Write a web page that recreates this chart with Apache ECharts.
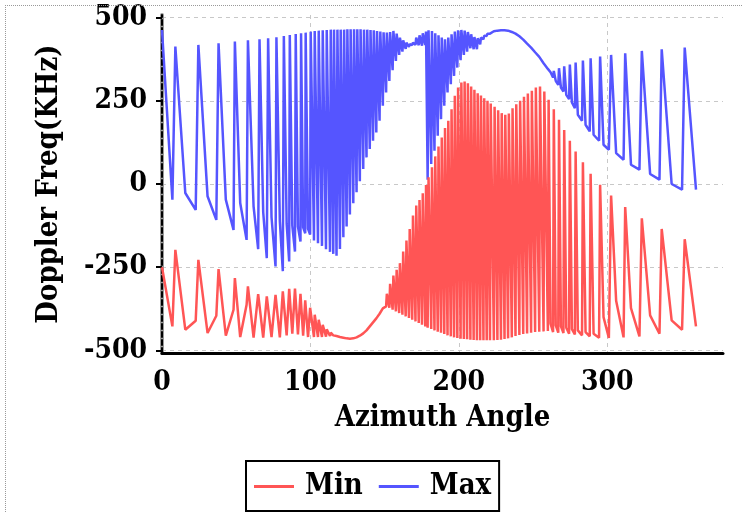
<!DOCTYPE html>
<html><head><meta charset="utf-8">
<script src="https://cdn.jsdelivr.net/npm/echarts@6/dist/echarts.min.js"></script>
<style>
html,body{margin:0;padding:0;background:#fff;overflow:hidden;}
#chart{width:742px;height:512px;}
#frame{position:absolute;left:5px;top:5px;width:800px;height:600px;border-left:1px dotted #999;border-top:1px dotted #999;pointer-events:none;}
</style></head><body>
<div id="chart"></div><div id="frame"></div>
<script>
// Azimuth sample positions (deg)
const azimuth = [
  0, 7, 9, 15.7, 22.7, 24.5, 30.7, 36.6, 38.1, 43, 48.2, 49.1, 52.7, 57, 57.9, 61.7, 64.8, 65.7,
  68.2, 70.6, 71.5, 73.8, 76.5, 77.1, 79.4, 81.4, 82.1, 84, 85.7, 86.1, 87.8, 89.6, 90.1, 91.6, 93.3, 93.7, 95.1, 96.5, 96.8, 98.4, 99.8, 100.2,
  102.4, 102.9, 105.1, 105.6, 107.8, 108.3, 110.5, 111, 113.2, 113.7, 115.4, 115.9, 117.6, 118.2, 119.9, 120.4, 122.2, 122.7, 124.4, 124.9, 126.6, 127.1, 128.9, 129.4, 131.1, 131.6, 133.3, 133.8, 135.6, 136.1, 137.8, 138.3, 140, 140.5, 142.2, 142.7, 144.4, 144.9, 146.6, 147.1, 148.8, 149.3,
  151, 151.5, 153.2, 153.7, 155.4, 155.9, 157.6, 158.1, 159.8, 160.3, 162, 162.5, 164.2, 164.7, 166.4, 166.9, 168.6, 169.1, 170.8, 171.3, 173, 173.5, 175.2, 175.7, 177.4, 177.9,
  179, 179.6, 181.4, 181.9, 183.6, 184.1, 185.8, 186.3, 188, 188.5, 190.2, 190.7, 192.4, 192.9, 194.6, 195.1, 196.8, 197.3, 199, 199.5, 201.2, 201.7, 203.4, 203.9, 205.6, 206.1, 207.8, 208.3, 210, 210.5, 212.2, 212.7, 214.4, 214.9, 216.6, 217.1, 218.8, 219.3, 221, 221.5,
  223.6, 224.1, 226, 226.5, 228.4, 228.9, 230.8, 231.3, 233.2, 233.7, 235.7, 236.2, 238.2, 238.7, 240.8, 241.3, 243.4, 243.9, 246, 246.5, 248.7, 249.2, 251.4, 251.9, 254.2, 254.7, 257.1, 257.6,
  260, 260.5, 261.8, 263.5, 264, 265.3, 267, 267.5, 268.8, 270.5, 271, 272.4, 274.3, 274.8, 276.2, 278.2, 278.7, 280.2, 283, 283.6, 285.4, 288.2, 288.8, 290.8, 294.5, 295.2, 297.5, 301.1, 302.6, 306, 311, 312.1, 316, 321.7, 323.3, 328.9, 335.2, 336.7, 343.4, 350.4, 352.2, 359.8
];
// Max Doppler frequency (KHz)
const maxFreq = [
  463, -47, 413, -27, -78, 418, -37, -108, 423, -47, -138, 428, -57, -168, 432, -67, -196, 435,
  -85, -223, 438, -100, -248, 441, -112, -262, 445, -120, -233, 448, -125, -203, 451, -128, -173, 453, -130, -148, 455, -135, -152, 458,
  -170, 460, -178, 461, -186, 462, -196, 463, -204, 464, -210, 464, -216, 464, -195, 464, -160, 464, -128, 465, -92, 465, -58, 465, -25, 465, 8, 465, 45, 464, 80, 464, 105, 463, 130, 462, 155, 460, 190, 458, 235, 456,
  275, 455, 310, 457, 342, 460, 370, 452, 388, 440, 398, 432, 406, 425, 412, 420, 418, 425, 418, 440, 417, 447, 416, 453, 418, 458,
  13, 462, 60, 460, 100, 453, 145, 447, 195, 440, 235, 435, 275, 440, 300, 450, 325, 458, 350, 462, 372, 463, 388, 461, 398, 457, 408, 450, 405, 442, 405, 438, 420, 440, 435, 446, 445, 452, 452, 456,
  459, 459, 461, 461, 462, 462, 462, 462, 461, 460, 457, 456, 452, 451, 444, 443, 434, 432, 422, 420, 410, 407, 396, 393, 382, 379, 363, 361,
  346, 350, 336, 320, 340, 310, 298, 348, 290, 278, 354, 268, 255, 359, 245, 228, 365, 208, 190, 371, 178, 158, 378, 148, 130, 383, 118, 103, 388, 93, 73, 393, 58, 43, 400, 30, 13, 405, 0, -17, 410, -17
];
// Min Doppler frequency (KHz)
const minFreq = [
  -250, -428, -198, -438, -411, -228, -448, -396, -256, -456, -378, -283, -460, -363, -308, -462, -331, -328,
  -462, -338, -336, -460, -333, -330, -461, -323, -322, -455, -315, -315, -450, -314, -316, -452, -330, -333, -456, -350, -353, -460, -372, -375,
  -460, -393, -460, -408, -460, -423, -459, -437, -457, -447, -455, -453, -457, -457, -460, -460, -462, -462, -464, -464, -465, -465, -464, -464, -461, -460, -456, -455, -449, -447, -440, -438, -428, -425, -416, -413, -404, -401, -390, -387, -374, -370,
  -368, -330, -372, -300, -378, -275, -383, -258, -388, -238, -393, -203, -398, -170, -403, -135, -408, -95, -413, -65, -418, -48, -423, -28, -428, -3,
  -432, 20, -436, 50, -440, 83, -444, 113, -447, 140, -451, 168, -455, 190, -458, 225, -461, 265, -463, 290, -465, 305, -466, 308, -467, 303, -468, 293, -469, 283, -470, 273, -470, 266, -470, 258, -470, 250, -470, 242,
  -470, 232, -469, 222, -468, 213, -466, 208, -464, 212, -461, 228, -457, 240, -454, 250, -451, 262, -449, 272, -447, 280, -445, 290, -444, 293, -443, 278,
  -442, 253, -420, -445, 225, -425, -447, 193, -428, -448, 162, -432, -450, 130, -436, -452, 98, -440, -455, 65, -445, -458, 31, -450, -462, -2, -400, -463, -35, -351, -461, -69, -373, -458, -103, -395, -450, -135, -410, -438, -166, -428
];
const xTicks = [0, 100, 200, 300];
const yTicks = [-500, -250, 0, 250, 500];

if (azimuth.length !== maxFreq.length || azimuth.length !== minFreq.length) {
  console.error('length mismatch', azimuth.length, maxFreq.length, minFreq.length);
}

const FF = "'DejaVu Serif Condensed', 'DejaVu Serif', serif";
const chart = echarts.init(document.getElementById('chart'), null, {renderer: 'canvas'});
const pairs = ys => azimuth.map((x, i) => [x, ys[i]]);

chart.setOption({
  animation: false,
  backgroundColor: '#fff',
  textStyle: {fontFamily: FF, fontWeight: 'bold', color: '#000'},
  grid: {left: 162, right: 19, top: 15, bottom: 159},
  legend: {
    data: ['Min', 'Max'], left: 246, bottom: 1,
    icon: 'rect', itemWidth: 40, itemHeight: 3, itemGap: 16,
    borderColor: '#000', borderWidth: 2, padding: [11, 8, 10, 8],
    textStyle: {fontFamily: FF, fontWeight: 'bold', fontSize: 29, color: '#000', padding: [0, 0, 0, 6]}
  },
  xAxis: {
    type: 'value', min: 0, max: 378,
    name: 'Azimuth Angle', nameLocation: 'middle', nameGap: 51,
    nameTextStyle: {fontFamily: FF, fontWeight: 'bold', fontSize: 29, color: '#000'},
    axisLine: {onZero: false, lineStyle: {color: '#000', width: 3}},
    axisTick: {show: false, customValues: xTicks},
    axisLabel: {fontFamily: FF, fontWeight: 'bold', fontSize: 28, color: '#000', margin: 16, customValues: xTicks},
    splitLine: {show: true, lineStyle: {color: '#c8c8c8', width: 1, type: [4, 4]}}
  },
  yAxis: [
    {
      type: 'value', min: -508, max: 508, position: 'left',
      axisLine: {show: true, onZero: false, lineStyle: {color: '#9a9a9a', width: 4}},
      axisTick: {show: false}, axisLabel: {show: false}, splitLine: {show: false}
    },
    {
      type: 'value', min: -508, max: 508, position: 'left',
      name: 'Doppler Freq(KHz)', nameLocation: 'middle', nameGap: 98,
      nameTextStyle: {fontFamily: FF, fontWeight: 'bold', fontSize: 29, color: '#000'},
      axisLine: {show: true, onZero: false, lineStyle: {color: '#000', width: 2, type: [5, 3]}},
      axisTick: {show: true, length: 6, lineStyle: {color: '#000', width: 2}, customValues: yTicks},
      axisLabel: {fontFamily: FF, fontWeight: 'bold', fontSize: 28, color: '#000', margin: 15, customValues: yTicks},
      splitLine: {show: true, lineStyle: {color: '#c8c8c8', width: 1, type: [4, 4]}}
    }
  ],
  series: [
    {name: 'Max', type: 'line', yAxisIndex: 1, data: pairs(maxFreq), showSymbol: false, symbol: 'none',
     lineStyle: {color: '#5555ff', width: 2.5}, itemStyle: {color: '#5555ff'}},
    {name: 'Min', type: 'line', yAxisIndex: 1, data: pairs(minFreq), showSymbol: false, symbol: 'none',
     lineStyle: {color: '#ff5555', width: 2.5}, itemStyle: {color: '#ff5555'}}
  ]
});
</script>
</body></html>
